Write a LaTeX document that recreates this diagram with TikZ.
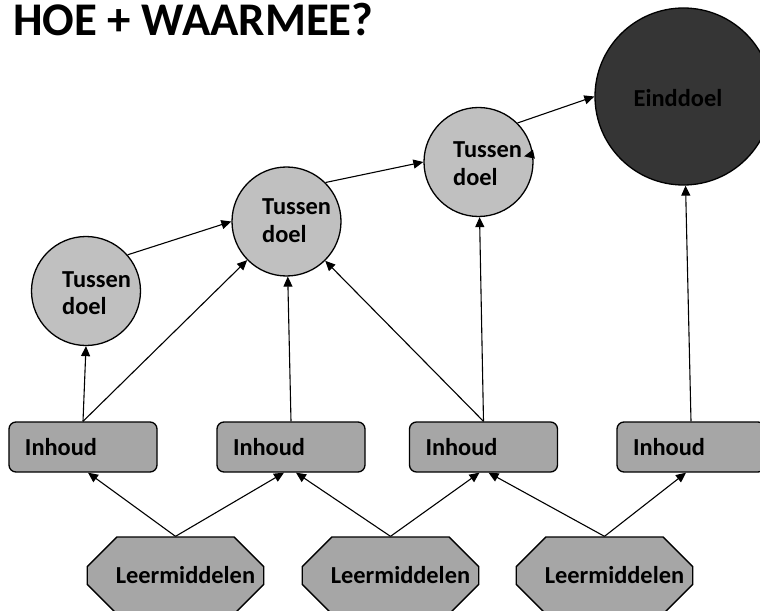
\documentclass[tikz,border=0pt]{standalone}
\usepackage{fontspec}
\setmainfont{Carlito}
\usetikzlibrary{arrows.meta,shapes.misc}
\definecolor{lightg}{HTML}{C0C0C0}
\definecolor{midg}{HTML}{A6A6A6}
\definecolor{darkg}{HTML}{353535}
\begin{document}
\begin{tikzpicture}[x=1bp,y=-1bp,
  every node/.style={font=\bfseries\fontsize{24.5}{28}\selectfont, inner sep=0pt},
  goalcirc/.style={circle, draw, line width=1.3bp, fill=lightg, minimum size=109bp},
  endgoal/.style={circle, draw, line width=1.3bp, fill=darkg, minimum size=177bp},
  inhoudbox/.style={draw, line width=1.3bp, fill=midg, rounded corners=7bp, minimum height=50bp, text width=116bp, inner xsep=16bp, align=left},
  middelbox/.style={chamfered rectangle, chamfered rectangle xsep=22bp, chamfered rectangle ysep=21bp, draw, line width=1.3bp, fill=midg, minimum width=169bp, minimum height=77bp},
  lbl/.style={anchor=base west},
  arr/.style={-{Triangle[length=10bp,width=9bp]}, line width=1.1bp},
]
\useasboundingbox (0,0) rectangle (760,611);
\clip (0,0) rectangle (760,611);

\node[anchor=base west, font=\bfseries\fontsize{47}{54}\selectfont] (title) at (13,36) {HOE + WAARMEE?};

\node[goalcirc] (C1) at (86,291) {};
\node[goalcirc] (C2) at (286.5,221.5) {};
\node[goalcirc] (C3) at (478.5,162) {};
\node[endgoal] (E) at (683.5,96.5) {};

\node[lbl] (T1) at (62,287) {\vtop{\hbox{Tussen}\hbox{doel}}};
\node[lbl] (T2) at (262,215) {\vtop{\hbox{Tussen}\hbox{doel}}};
\node[lbl] (T3) at (453,158) {\vtop{\hbox{Tussen}\hbox{doel}}};
\node[anchor=base] (TE) at (678,107) {Einddoel};

\node[inhoudbox] (B1) at (83,447) {Inhoud};
\node[inhoudbox] (B2) at (291,447) {Inhoud};
\node[inhoudbox] (B3) at (483.5,447) {Inhoud};
\node[inhoudbox] (B4) at (691,447) {Inhoud};

\node[middelbox] (O1) at (175.5,575.5) {\hspace*{20bp}Leermiddelen};
\node[middelbox] (O2) at (390.5,575.5) {\hspace*{20bp}Leermiddelen};
\node[middelbox] (O3) at (604.5,575.5) {\hspace*{20bp}Leermiddelen};

\draw[arr] (B1.north) -- (C1.south);
\draw[arr] (B1.north) -- (C2);
\draw[arr] (B2.north) -- (C2);
\draw[arr] (B3.north) -- (C2);
\draw[arr] (B3.north) -- (C3);
\draw[arr] (B4.north) -- (E);
\draw[arr] (C1.41) -- (C2.west);
\draw[arr] (C2.45) -- (C3.west);
\draw[arr] (C3.45) -- (E.west);
\coordinate (s3) at ([xshift=-9bp,yshift=-2bp]C3.8);
\draw[arr] (C3.8) -- (s3);

\draw[arr] (O1.north) -- ([xshift=5bp]B1.south);
\draw[arr] (O1.north) -- ([xshift=-7bp]B2.south);
\draw[arr] (O2.north) -- ([xshift=5bp]B2.south);
\draw[arr] (O2.north) -- ([xshift=-4bp]B3.south);
\draw[arr] (O3.north) -- ([xshift=5bp]B3.south);
\draw[arr] (O3.north) -- ([xshift=-5bp]B4.south);
\end{tikzpicture}
\end{document}
